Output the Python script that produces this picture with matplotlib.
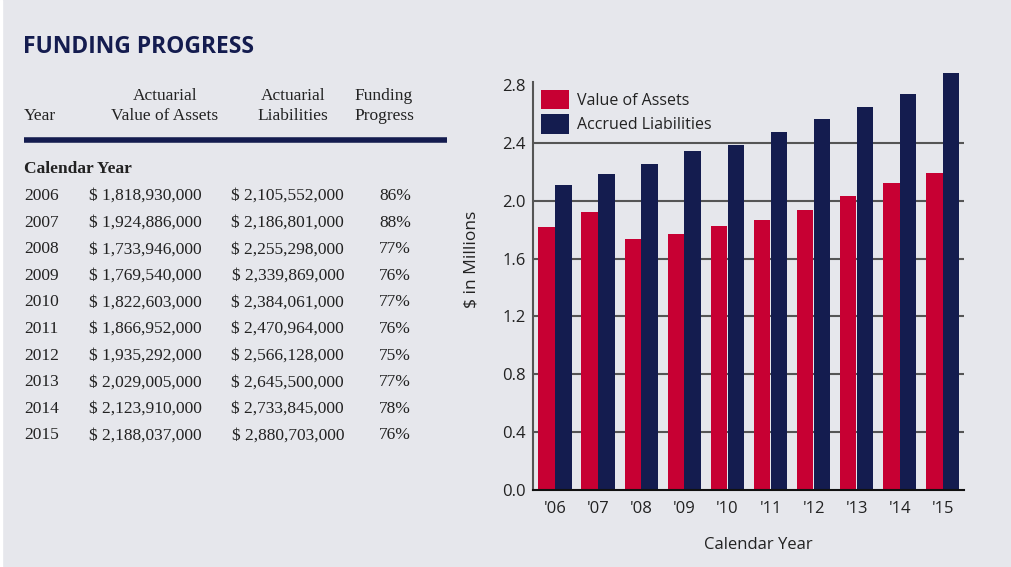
import matplotlib.pyplot as plt
import numpy as np

# table / chart data
years = [2006, 2007, 2008, 2009, 2010, 2011, 2012, 2013, 2014, 2015]
year_ticks = ["'06", "'07", "'08", "'09", "'10", "'11", "'12", "'13", "'14", "'15"]
assets = [1818930000, 1924886000, 1733946000, 1769540000, 1822603000,
          1866952000, 1935292000, 2029005000, 2123910000, 2188037000]
liabilities = [2105552000, 2186801000, 2255298000, 2339869000, 2384061000,
               2470964000, 2566128000, 2645500000, 2733845000, 2880703000]
funding = [86, 88, 77, 76, 77, 76, 75, 77, 78, 76]
y_ticks = [0.0, 0.4, 0.8, 1.2, 1.6, 2.0, 2.4, 2.8]

BG = '#e6e7ec'
NAVY = '#141c4f'
RED = '#c70033'
TXT = '#222222'

fig = plt.figure(figsize=(10.11, 5.67), dpi=100)
fig.patch.set_facecolor(BG)
W, H = 1011, 567

def fx(px):
    return px / W

def fy(py):
    return 1 - py / H

# thin white strip on the left edge
fig.patches.append(plt.Rectangle((0, 0), fx(2), 1, transform=fig.transFigure,
                                 color='white', zorder=0))

# ---- left side: table ----
fig.text(fx(23), fy(47), 'FUNDING PROGRESS', fontsize=16.5, fontweight='bold',
         color=NAVY, family='Open Sans', va='center', ha='left')

serif = 'Liberation Serif'
tsize = 12.5
fig.text(fx(24), fy(116), 'Year', fontsize=tsize, family=serif, color=TXT, va='center')
for cx, l1, l2 in [(165, 'Actuarial', 'Value of Assets'),
                   (293, 'Actuarial', 'Liabilities'),
                   (384, 'Funding', 'Progress')]:
    fig.text(fx(cx), fy(96), l1, fontsize=tsize, family=serif, color=TXT,
             ha='center', va='center')
    fig.text(fx(cx), fy(116), l2, fontsize=tsize, family=serif, color=TXT,
             ha='center', va='center')

fig.add_artist(plt.Line2D([fx(24), fx(447)], [fy(140), fy(140)],
                          transform=fig.transFigure, color=NAVY, lw=4, solid_capstyle='butt'))

fig.text(fx(24), fy(169), 'Calendar Year', fontsize=tsize, family=serif,
         fontweight='bold', color=TXT, va='center')

row0, step = 196, 26.6
for i, yr in enumerate(years):
    yy = fy(row0 + i * step)
    fig.text(fx(24), yy, str(yr), fontsize=tsize, family=serif, color=TXT, va='center')
    fig.text(fx(202), yy, '$ {:,}'.format(assets[i]), fontsize=tsize, family=serif,
             color=TXT, va='center', ha='right')
    fig.text(fx(344), yy, '$ {:,}'.format(liabilities[i]), fontsize=tsize, family=serif,
             color=TXT, va='center', ha='right')
    fig.text(fx(411), yy, '{}%'.format(funding[i]), fontsize=tsize, family=serif,
             color=TXT, va='center', ha='right')

# ---- right side: bar chart ----
ax = fig.add_axes([fx(533), fy(490), fx(964 - 533), (490 - 82) / H])
ax.set_facecolor(BG)

x = np.arange(len(years))
va = np.array(assets) / 1e9
vl = np.array(liabilities) / 1e9
ax.bar(x - 0.195, va, width=0.38, color=RED, label='Value of Assets', zorder=3, clip_on=False)
ax.bar(x + 0.195, vl, width=0.38, color=NAVY, label='Accrued Liabilities', zorder=3, clip_on=False)

ax.set_xlim(-0.51, 9.49)
ax.set_ylim(0, 2.82)
ax.set_yticks(y_ticks)
ax.set_yticklabels(['{:.1f}'.format(v) for v in y_ticks])
ax.set_xticks(x)
ax.set_xticklabels(year_ticks)

for v in y_ticks[1:-1]:
    ax.axhline(v, color='#555555', lw=1.5, zorder=1)

for s in ['top', 'right']:
    ax.spines[s].set_visible(False)
ax.spines['left'].set_color('#555555')
ax.spines['left'].set_linewidth(1.5)
ax.spines['bottom'].set_color('#111111')
ax.spines['bottom'].set_linewidth(1.5)
ax.spines['bottom'].set_zorder(4)
ax.tick_params(length=0, labelsize=12, colors=TXT)
ax.tick_params(axis='x', pad=8)
ax.tick_params(axis='y', pad=5)
for lab in ax.get_xticklabels() + ax.get_yticklabels():
    lab.set_family('Open Sans')

ax.set_ylabel('\\$ in Millions', fontsize=12.5, family='Open Sans', color=TXT)
ax.yaxis.set_label_coords(-0.125, 0.565)
ax.set_xlabel('Calendar Year', fontsize=12, family='Open Sans', color=TXT)
ax.xaxis.set_label_coords(0.522, -0.115)

leg = ax.legend(loc='upper left', bbox_to_anchor=(0.0, 1.0), frameon=False,
                prop={'family': 'Open Sans', 'size': 11.5},
                handlelength=1.75, handleheight=1.5, labelspacing=0.3,
                handletextpad=0.5, borderaxespad=0.3, borderpad=0.2)
for t in leg.get_texts():
    t.set_color(TXT)

fig.savefig('out.png', dpi=100, facecolor=BG)
